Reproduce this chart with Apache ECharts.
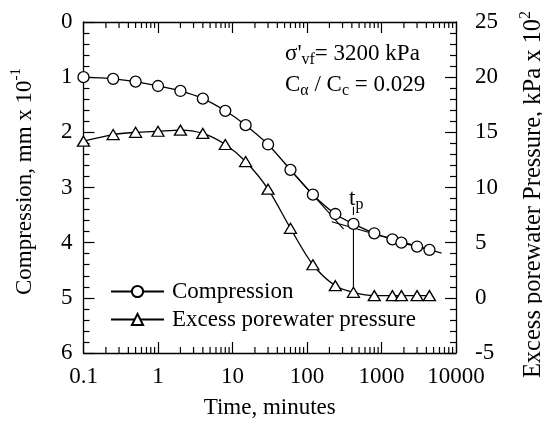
<!DOCTYPE html>
<html><head><meta charset="utf-8">
<script src="https://cdn.jsdelivr.net/npm/echarts@6/dist/echarts.min.js"></script>
<style>html,body{margin:0;padding:0;background:#fff}#c{width:542px;height:421px}</style>
</head><body><div id="c"></div>
<script>
// ---- data ----
const timeMinutes = [0.1, 0.25, 0.5, 1, 2, 4, 8, 15, 30, 60, 120, 240, 420, 800, 1400, 1850, 3000, 4400];
const compression = [1.00, 1.03, 1.08, 1.16, 1.25, 1.39, 1.61, 1.87, 2.22, 2.68, 3.13, 3.48, 3.66, 3.83, 3.94, 4.00, 4.07, 4.13];
const porePressure = [14.2, 14.8, 15.0, 15.1, 15.2, 14.9, 13.9, 12.35, 9.85, 6.3, 3.0, 1.1, 0.5, 0.2, 0.2, 0.2, 0.2, 0.2];
const primaryTangent = [[60, 2.68], [310, 3.755]];
const secondaryLine = [[215, 3.62], [6400, 4.19]];
const tpLine = [[420, 3.66], [420, 4.90]];
const tpLeader = [[420, 3.35], [420, 3.50]];
const xTickLabels = ['0.1', '1', '10', '100', '1000', '10000'];
const leftTickLabels = ['0', '1', '2', '3', '4', '5', '6'];
const rightTickLabels = ['-5', '0', '5', '10', '15', '20', '25'];
const minorMultipliers = [2, 3, 4, 5, 6, 7, 8, 9];
const decades = [0.1, 1, 10, 100, 1000];

const FONT = 'Liberation Serif';
const minorTicks = [];
decades.forEach(d => minorMultipliers.forEach(m => minorTicks.push([+(d * m).toPrecision(3), 0])));

const chart = echarts.init(document.getElementById('c'), null, {renderer: 'canvas'});
const black = '#000';
const axisLine = {show: true, onZero: false, lineStyle: {color: black, width: 1.3}};
const mainStyle = {fontFamily: FONT, fontSize: 23, color: black};

const xAxisBase = {
  type: 'log', min: 0.1, max: 10000, logBase: 10,
  axisLine: axisLine,
  axisTick: {show: true, inside: true, length: 11, lineStyle: {color: black, width: 1.2}},
  splitLine: {show: false}
};

const option = {
  animation: false,
  backgroundColor: '#fff',
  grid: {left: 83.5, right: 86, top: 22, bottom: 68, containLabel: false, outerBoundsMode: 'none'},
  xAxis: [
    Object.assign({}, xAxisBase, {
      position: 'bottom',
      name: 'Time, minutes', nameLocation: 'middle', nameGap: 43,
      nameTextStyle: mainStyle,
      axisLabel: {show: true, margin: 12, fontFamily: FONT, fontSize: 23, color: black,
        formatter: v => { const i = Math.round(Math.log10(v) + 1); return xTickLabels[i] !== undefined ? xTickLabels[i] : ''; }}
    }),
    Object.assign({}, xAxisBase, {position: 'top', axisLabel: {show: false}})
  ],
  yAxis: [
    {
      type: 'value', min: 0, max: 6, interval: 1, inverse: true, position: 'left',
      axisLine: axisLine,
      axisTick: {show: true, inside: true, length: 11, lineStyle: {color: black, width: 1.2}},
      minorTick: {show: true, splitNumber: 5, length: 6, lineStyle: {color: black, width: 1.2}},
      splitLine: {show: false},
      axisLabel: {margin: 11, fontFamily: FONT, fontSize: 23, color: black,
        formatter: v => leftTickLabels[Math.round(v)]},
      name: '{a|Compression, mm x 10}{s|-1}', nameLocation: 'middle', nameRotate: 90, nameGap: 43,
      nameTextStyle: {fontFamily: FONT, fontSize: 23, color: black, padding: [0, 0, 0, 12],
        rich: {a: {fontFamily: FONT, fontSize: 23, color: black, lineHeight: 32},
               s: {fontFamily: FONT, fontSize: 15, color: black, lineHeight: 15, verticalAlign: 'top'}}}
    },
    {
      type: 'value', min: -5, max: 25, interval: 5, position: 'right',
      axisLine: axisLine,
      axisTick: {show: true, inside: true, length: 11, lineStyle: {color: black, width: 1.2}},
      minorTick: {show: true, splitNumber: 5, length: 6, lineStyle: {color: black, width: 1.2}},
      splitLine: {show: false},
      axisLabel: {margin: 19, fontFamily: FONT, fontSize: 23, color: black,
        formatter: v => rightTickLabels[Math.round((v + 5) / 5)]},
      name: '{a|Excess porewater Pressure, kPa x 10}{s|2}', nameLocation: 'middle', nameRotate: 90, nameGap: 62,
      nameTextStyle: {fontFamily: FONT, fontSize: 24.5, color: black, padding: [0, 14, 0, 0],
        rich: {a: {fontFamily: FONT, fontSize: 24.5, color: black, lineHeight: 32},
               s: {fontFamily: FONT, fontSize: 16, color: black, lineHeight: 15, verticalAlign: 'top'}}}
    }
  ],
  legend: {
    show: true, orient: 'vertical', left: 105, top: 275,
    itemWidth: 53, itemHeight: 14, itemGap: 5,
    data: ['Compression', 'Excess porewater pressure'],
    textStyle: {fontFamily: FONT, fontSize: 23, color: black, padding: [0, 0, 0, 3]}
  },
  graphic: [
    {type: 'text', x: 285, y: 40, z: 100, style: {
      text: '{m|σ\'}{s|vf}{m|= 3200 kPa}', fill: black, verticalAlign: 'top',
      rich: {m: {fontFamily: FONT, fontSize: 23, lineHeight: 28, fill: black},
             s: {fontFamily: FONT, fontSize: 16, lineHeight: 14, verticalAlign: 'bottom', fill: black}}}},
    {type: 'text', x: 285, y: 71, z: 100, style: {
      text: '{m|C}{s|α}{m| / C}{s|c}{m| = 0.029}', fill: black, verticalAlign: 'top',
      rich: {m: {fontFamily: FONT, fontSize: 23, lineHeight: 28, fill: black},
             s: {fontFamily: FONT, fontSize: 16, lineHeight: 14, verticalAlign: 'bottom', fill: black}}}},
    {type: 'text', x: 349, y: 185, z: 100, style: {
      text: '{m|t}{s|p}', fill: black, verticalAlign: 'top',
      rich: {m: {fontFamily: FONT, fontSize: 23, lineHeight: 28, fill: black},
             s: {fontFamily: FONT, fontSize: 16, lineHeight: 14, verticalAlign: 'bottom', fill: black}}}}
  ],
  series: [
    {name: 'minorTicks', type: 'custom', xAxisIndex: 0, yAxisIndex: 0, silent: true, clip: false, z: 1,
      data: minorTicks,
      renderItem: (params, api) => {
        const t = api.value(0);
        const top = api.coord([t, 0]);
        const bot = api.coord([t, 6]);
        const st = {stroke: black, lineWidth: 1.2};
        return {type: 'group', children: [
          {type: 'line', shape: {x1: bot[0], y1: bot[1], x2: bot[0], y2: bot[1] - 6}, style: st},
          {type: 'line', shape: {x1: top[0], y1: top[1], x2: top[0], y2: top[1] + 6}, style: st}
        ]};
      }},
    {name: 'primaryTangent', type: 'line', xAxisIndex: 0, yAxisIndex: 0, data: primaryTangent,
      symbol: 'none', lineStyle: {color: black, width: 1.1}, silent: true, z: 2},
    {name: 'secondaryLine', type: 'line', xAxisIndex: 0, yAxisIndex: 0, data: secondaryLine,
      symbol: 'none', lineStyle: {color: black, width: 1.1}, silent: true, z: 2},
    {name: 'tpLine', type: 'line', xAxisIndex: 0, yAxisIndex: 0, data: tpLine,
      symbol: 'none', lineStyle: {color: black, width: 1.1}, silent: true, z: 2},
    {name: 'tpLeader', type: 'line', xAxisIndex: 0, yAxisIndex: 0, data: tpLeader,
      symbol: 'none', lineStyle: {color: black, width: 1.1}, silent: true, z: 2},
    {name: 'Compression', type: 'line', xAxisIndex: 0, yAxisIndex: 0,
      data: timeMinutes.map((t, i) => [t, compression[i]]),
      smooth: 0.3, symbol: 'circle', symbolSize: 11, showAllSymbol: true,
      lineStyle: {color: black, width: 1.3},
      itemStyle: {color: '#fff', borderColor: black, borderWidth: 1.3}, z: 5},
    {name: 'Excess porewater pressure', type: 'line', xAxisIndex: 0, yAxisIndex: 1,
      data: timeMinutes.map((t, i) => [t, porePressure[i]]),
      smooth: 0.3, symbol: 'triangle', symbolSize: [12, 10], showAllSymbol: true,
      lineStyle: {color: black, width: 1.3},
      itemStyle: {color: '#fff', borderColor: black, borderWidth: 1.3}, z: 5}
  ]
};
chart.setOption(option);
</script>
</body></html>
